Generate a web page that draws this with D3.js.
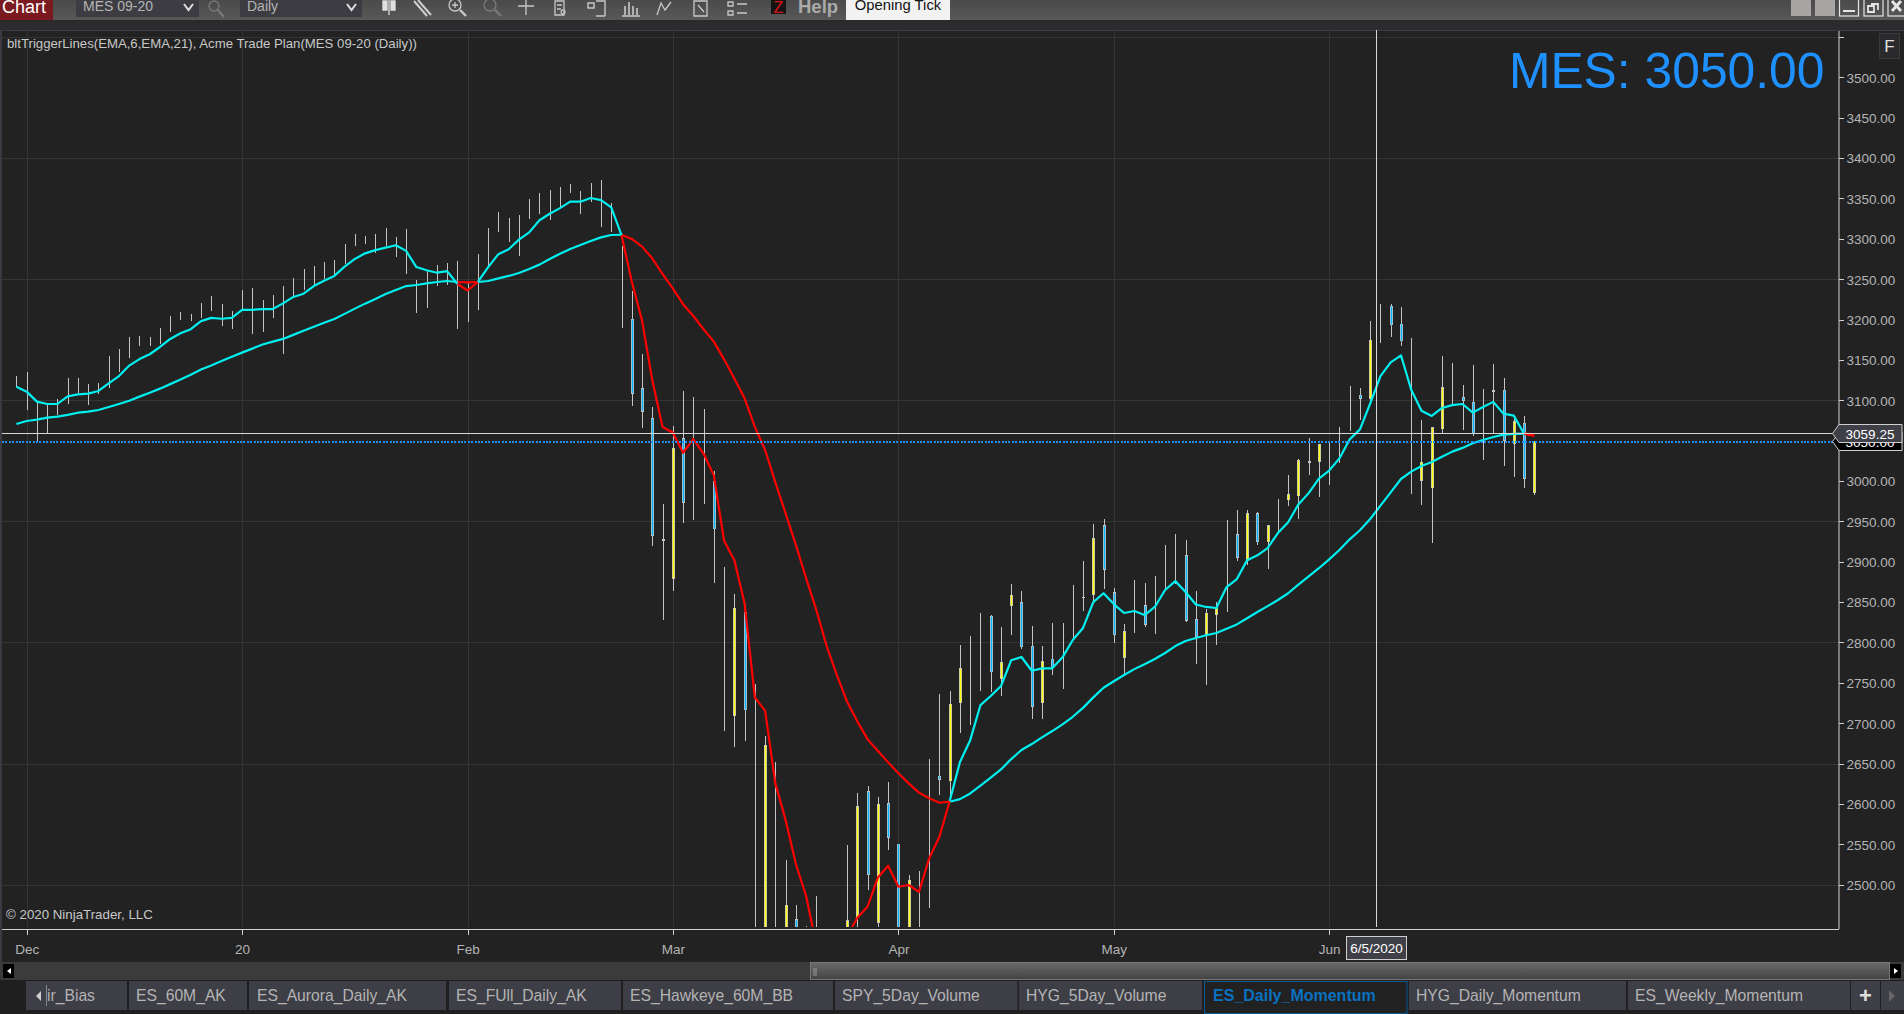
<!DOCTYPE html>
<html><head><meta charset="utf-8">
<script src="https://d3js.org/d3.v7.min.js"></script>
<style>
html,body{margin:0;padding:0;background:#1e1e1e;overflow:hidden}
svg{display:block}
text{font-family:"Liberation Sans",Arial,sans-serif}
</style></head><body>
<svg id="c" width="1904" height="1014"></svg>
<script>
const _ = null;
const highs = [
3130,3135,3098,3097,3102,3128,3127,3120,3122,3155,
3163,3178,3180,3178,3189,3204,3209,3207,3220,3229,
3219,3211,3236,3239,3224,3230,3242,3252,3263,3266,
3271,3274,3294,3306,3303,3306,3313,3302,3312,3249,
3261,3267,3270,3272,3246,3281,3313,3333,3326,3329,
3349,3357,3360,3364,3368,3359,3369,3373,3344,3291,
3235,3157,3092,2972,3068,3112,3104,3089,3012,2894,
2860,2848,2749,2684,2652,2531,2475,2449,2486,2430,
2432,2549,2613,2622,2609,2627,2551,2512,2517,2656,
2736,2740,2797,2808,2836,2834,2819,2872,2864,2820,
2796,2824,2824,2871,2901,2947,2953,2867,2823,2877,
2874,2882,2921,2934,2927,2864,2841,2850,2952,2964,
2964,2962,2945,2978,3008,3027,3053,3046,3047,3067,
3118,3115,3198,3219,3219,3216,3177,3076,3067,3155,
3146,3119,3144,3114,3145,3128,3078,3081,3050];
const lows = [
3117,3088,3047,3059,3082,3095,3109,3094,3108,3115,
3135,3152,3167,3167,3170,3185,3199,3198,3202,3211,
3192,3188,3212,3182,3185,3202,3157,3228,3237,3242,
3250,3255,3269,3291,3294,3283,3291,3277,3256,3208,
3214,3241,3243,3188,3197,3212,3265,3308,3296,3279,
3325,3331,3323,3340,3357,3331,3346,3315,3308,3190,
3093,3066,2920,2828,2864,2948,2952,2972,2874,2690,
2670,2678,2400,2400,2400,2400,2400,2400,2400,2400,
2400,2400,2400,2493,2440,2543,2400,2400,2400,2471,
2611,2605,2688,2698,2740,2739,2734,2809,2792,2705,
2705,2760,2742,2803,2839,2848,2866,2799,2760,2812,
2819,2810,2865,2873,2825,2773,2747,2797,2838,2901,
2896,2921,2891,2937,2969,2953,3008,2980,2995,3022,
3062,3076,3096,3171,3178,3167,2984,2970,2923,3059,
3094,3063,3056,3026,3058,3019,3005,2991,2983];
const opens = [
_,_,_,_,_,_,_,_,_,_, _,_,_,_,_,_,_,_,_,_, _,_,_,_,_,_,_,_,_,_,
_,_,_,_,_,_,_,_,_,_, _,_,_,_,_,_,_,_,_,_, _,_,_,_,_,_,_,_,_,_,
3201,3115,3078,2927,2879,3053,_,_,3000,_,
2709,2838,_,2430,_,2430,2457,_,_,_,
_,2430,2459,2616,2453,2601,2551,2430,_,_,
2635,2628,2725,_,_,2833,2755,2845,2850,2796,
2725,2780,_,_,2856,2859,2945,2862,2781,_,
2846,_,_,_,2908,2829,2809,2834,_,2934,
2901,2960,2924,_,2976,2981,3024,3024,_,_,
_,3107,3102,_,3217,3195,_,3000,2991,3064,
_,3104,3098,_,3111.5,3113,3046,3072,2985];
const closes = [
_,_,_,_,_,_,_,_,_,_, _,_,_,_,_,_,_,_,_,_, _,_,_,_,_,_,_,_,_,_,
_,_,_,_,_,_,_,_,_,_, _,_,_,_,_,_,_,_,_,_, _,_,_,_,_,_,_,_,_,_,
3108,3086,2932,2927,3041,2973,_,_,2940,_,
2843,2716,_,2673,_,2475,2430,_,_,_,
_,2456,2597,2512,2600,2558,2430,2506,_,_,
2630,2724,2768,_,_,2763,2776,2859,2794,2720,
2777,2768,_,_,2856,2929,2890,2809,2814,_,
2822,_,_,_,2827,2807,2837,2844,_,2905,
2960,2924,2945,_,2984,3026,3024,3046,_,_,
_,3102,3175,_,3193,3173,_,3024,3067,3116,
_,3099,3058,_,3111.5,3050,3074,3002.5,3050];
const fastEma = [
3116.8,3110.7,3098.3,3095.4,3095.4,3104.9,3107.4,3108.2,3111.5,3121,
3130,3143,3151,3157,3166,3176,3183,3188,3198,3202,
3201,3202,3212,3212,3213,3213,3220,3228,3232,3241.5,
3248,3254,3265.5,3275,3282,3286,3289,3292,3285,3265,
3261,3258,3260,3244,3236,3246.5,3265,3281,3287,3299,
3308,3323,3331,3338,3346,3346,3350.5,3348,3339,3304.5,
3247,3199,3125,3067,3060,3035,3052,3034,3007,2926,
2902,2848.5,2732,2715.5,2625.5,2580,2525.6,2486,2425,2415,
2420,2437,2459,2473,2509,2523.5,2497.5,2499.6,2491,2532.6,
2559.4,2603.6,2652,2679,2722.5,2733.7,2746,2778,2782,2765,
2768,2768,2781.6,2803,2818,2850,2861,2847.6,2836.5,2839,
2834,2844,2865,2876,2862.5,2847,2844,2842.7,2868.7,2878.6,
2902,2908,2917,2935.6,2949,2971,2985,3003,3013,3028,
3051.6,3064,3096,3130,3147,3155.7,3113,3087,3080.6,3090.5,
3094,3095.4,3084.7,3091.7,3098,3083.4,3081,3058.5,3055.8];
const slowEma = [
3070.6,3074.3,3076,3078.5,3079.7,3082,3084.6,3086,3088,3091.7,
3095.4,3099.5,3104.5,3109.4,3114.4,3120,3125.6,3131.7,3138,3143,
3148.6,3154,3159,3164,3169,3172.6,3176,3181,3186,3191,
3196,3200.7,3207,3213.5,3219.7,3225.4,3231.6,3236.6,3241.5,3242.8,
3244.8,3246.5,3247.7,3246.5,3246,3246.5,3247.7,3251,3254,3257.6,
3262.6,3268,3275,3281.6,3287.4,3292.3,3297.3,3301.8,3304.7,3305,
3299.8,3290.3,3275.8,3256.4,3238.6,3219,3204.4,3188,3172.6,3150.7,
3127,3102.4,3067,3038.4,2998.4,2960,2921,2879.5,2840,2795.6,
2759.7,2726.6,2702,2680,2665.5,2651.5,2638,2625.5,2614,2607,
2601.5,2602.8,2606,2613,2622.6,2632.5,2642.8,2655.6,2666.8,2674.2,
2682.5,2690.3,2698.6,2708,2719,2732,2744,2752,2759.7,2767,
2773,2779.5,2787,2795.6,2801.8,2805.5,2809,2811.7,2817,2822.4,
2830,2837.7,2845,2852.6,2861,2871.6,2882,2892,2903,2914.6,
2927.8,2939,2953,2969.5,2986,3002.5,3011.6,3018.6,3023.6,3030,
3036.4,3041,3046.7,3050.8,3054.5,3057.4,3058.3,3058.7,3057.8];
const priceTicks = [3550,3500,3450,3400,3350,3300,3250,3200,3150,3100,3050,3000,2950,2900,2850,2800,2750,2700,2650,2600,2550,2500];
const gridPrices = [3550,3400,3250,3100,2950,2800,2650,2500];
const dateTickIdx = [1,22,44,64,86,107,128];
const dateTickLabels = ["Dec","20","Feb","Mar","Apr","May","Jun"];
const lastPrice = 3059.25, markerPrice = 3050.00;
const cursorIdx = 132.55, cursorDate = "6/5/2020";
const tabNames = ["ir_Bias","ES_60M_AK","ES_Aurora_Daily_AK","ES_FUll_Daily_AK","ES_Hawkeye_60M_BB","SPY_5Day_Volume","HYG_5Day_Volume","ES_Daily_Momentum","HYG_Daily_Momentum","ES_Weekly_Momentum"];
const tabEdges = [[26,127,47],[129,247,136],[249,446,257],[449,621,456],[623,833,630],[835,1017.5,842],[1019,1202,1026],[1204,1407.5,1213],[1409,1626,1416],[1628,1850,1635]];

const svg = d3.select("#c");
const plotL=2, plotR=1839, plotT=30, plotB=929;
const x = d3.scaleLinear().domain([0,148]).range([16.4,1534.3]);
const y = d3.scaleLinear().domain([2445,3558]).range([929.1,30.5]);

const defs = svg.append("defs");
const tg = defs.append("linearGradient").attr("id","tb").attr("x1",0).attr("y1",0).attr("x2",0).attr("y2",1);
tg.append("stop").attr("offset",0).attr("stop-color","#4a4a4a");
tg.append("stop").attr("offset",1).attr("stop-color","#585858");
const sg = defs.append("linearGradient").attr("id","sb").attr("x1",0).attr("y1",0).attr("x2",0).attr("y2",1);
sg.append("stop").attr("offset",0).attr("stop-color","#6a6a6a");
sg.append("stop").attr("offset",1).attr("stop-color","#434343");
defs.append("clipPath").attr("id","plot").append("rect").attr("x",plotL).attr("y",plotT).attr("width",plotR-plotL).attr("height",927-plotT);

// backgrounds
svg.append("rect").attr("width",1904).attr("height",1014).attr("fill","#222222");
svg.append("rect").attr("width",1904).attr("height",20).attr("fill","url(#tb)");
svg.append("rect").attr("y",20).attr("width",1904).attr("height",2).attr("fill","#2a2a2a");
svg.append("rect").attr("y",22).attr("width",1904).attr("height",8).attr("fill","#2c2c2e");
svg.append("rect").attr("y",30).attr("width",1904).attr("height",1).attr("fill","#3c3c40");
svg.append("rect").attr("x",0).attr("y",30).attr("width",2).attr("height",932).attr("fill","#3a3a40");

// grid
const g = svg.append("g").attr("shape-rendering","crispEdges");
g.selectAll(".h").data(gridPrices).join("line").attr("x1",plotL).attr("x2",plotR).attr("y1",d=>Math.round(y(d))+.5).attr("y2",d=>Math.round(y(d))+.5).attr("stroke","#343434");
g.selectAll(".v").data(dateTickIdx).join("line").attr("y1",plotT).attr("y2",927).attr("x1",d=>Math.round(x(d))+.5).attr("x2",d=>Math.round(x(d))+.5).attr("stroke","#343434");

// bars
const idx = d3.range(highs.length);
const bars = svg.append("g").attr("clip-path","url(#plot)");
const px = i=>Math.round(x(i));
bars.append("g").attr("shape-rendering","crispEdges").selectAll("line").data(idx).join("line")
  .attr("x1",i=>px(i)+.5).attr("x2",i=>px(i)+.5).attr("y1",i=>y(highs[i])).attr("y2",i=>y(lows[i]))
  .attr("stroke","#c4c4c4").attr("stroke-width",1);
const withBody = idx.filter(i=>opens[i]!==null);
const dojis = withBody.filter(i=>opens[i]===closes[i]);
const bodies = withBody.filter(i=>opens[i]!==closes[i]);
bars.append("g").attr("shape-rendering","crispEdges").selectAll("rect").data(bodies).join("rect")
  .attr("x",i=>px(i)-1).attr("width",3)
  .attr("y",i=>y(Math.max(opens[i],closes[i]))).attr("height",i=>Math.abs(y(opens[i])-y(closes[i])))
  .attr("fill","#c4c4c4");
bars.append("g").selectAll("rect").data(bodies).join("rect")
  .attr("x",i=>px(i)-.2).attr("width",1.4)
  .attr("y",i=>y(Math.max(opens[i],closes[i]))+.8).attr("height",i=>Math.max(0,Math.abs(y(opens[i])-y(closes[i]))-1.6))
  .attr("fill",i=>closes[i]>opens[i]?"#ffff00":"#00b4ff");
bars.append("g").attr("shape-rendering","crispEdges").selectAll("rect").data(dojis).join("rect")
  .attr("x",i=>px(i)-1).attr("width",3).attr("y",i=>y(opens[i])-.5).attr("height",1.5).attr("fill","#c4c4c4");

// EMA lines, coloured by which is above
function runs(){const out=[];let cur=null;
  for(let i=0;i<fastEma.length-1;i++){const red=fastEma[i]<slowEma[i];
    if(!cur||cur.red!==red){cur={red,ids:[i]};out.push(cur);} cur.ids.push(i+1);} return out;}
const lg = svg.append("g").attr("clip-path","url(#plot)").attr("fill","none").attr("stroke-width",2.2).attr("stroke-linejoin","round");
[slowEma,fastEma].forEach(s=>{
  const ln = d3.line().x(i=>x(i)).y(i=>y(s[i]));
  lg.append("g").selectAll("path").data(runs()).join("path").attr("d",r=>ln(r.ids)).attr("stroke",r=>r.red?"#ff0000":"#00f0f0");
});

// price lines and cursor
const over = svg.append("g").attr("shape-rendering","crispEdges");
over.append("line").attr("x1",plotL).attr("x2",1833).attr("y1",Math.round(y(markerPrice))+.5).attr("y2",Math.round(y(markerPrice))+.5)
  .attr("stroke","#1e90ff").attr("stroke-width",2).attr("stroke-dasharray","2 1.4");
over.append("line").attr("x1",plotL).attr("x2",1833).attr("y1",Math.round(y(lastPrice))+.5).attr("y2",Math.round(y(lastPrice))+.5).attr("stroke","#d8d8d8");
over.append("line").attr("x1",Math.round(x(cursorIdx))+.5).attr("x2",Math.round(x(cursorIdx))+.5).attr("y1",plotT).attr("y2",927).attr("stroke","#d8d8d8");

// axes
const ya = d3.axisRight(y).tickValues(priceTicks).tickSize(5).tickPadding(3).tickFormat(d=>d===3550?"":d3.format(".2f")(d));
const yg = svg.append("g").attr("transform",`translate(${plotR-.5},0)`).call(ya);
yg.select(".domain").attr("d",`M0.5,31V${plotB}`).attr("stroke","#d0d0d0").attr("fill","none");
yg.selectAll("line").attr("stroke","#d0d0d0").attr("shape-rendering","crispEdges");
yg.selectAll("text").attr("fill","#b4b4b4").attr("dy","0.36em").style("font-size","13.5px").style("font-family",'"Liberation Sans"');
const xa = d3.axisBottom(x).tickValues(dateTickIdx).tickSize(6).tickPadding(9).tickFormat((d,i)=>dateTickLabels[i]);
const xg = svg.append("g").attr("transform",`translate(0,${plotB})`).call(xa);
xg.select(".domain").attr("d",`M${plotL},0.5H${plotR}`).attr("stroke","#d0d0d0").attr("fill","none");
xg.selectAll("line").attr("stroke","#d0d0d0").attr("shape-rendering","crispEdges");
xg.selectAll("text").attr("fill","#b4b4b4").style("font-size","13.5px").style("font-family",'"Liberation Sans"');

// price flags
function flag(yc,fill,txt,col){
  const yy=Math.round(y(yc))+.5, t=yy-9, b=yy+9;
  svg.append("path").attr("d",`M1832.5,${yy}L1839,${t}H1902V${b}H1839Z`).attr("fill",fill).attr("stroke","#cfcfcf");
  svg.append("text").attr("x",1870).attr("y",yy+5).attr("text-anchor","middle").attr("fill",col).style("font-size","13.5px").text(txt);
}
flag(markerPrice,"#000000",d3.format(".2f")(markerPrice),"#ffffff");
flag(lastPrice,"#3f3f47",d3.format(".2f")(lastPrice),"#ffffff");

// cursor date box
svg.append("rect").attr("x",1346.5).attr("y",936.5).attr("width",60).attr("height",23).attr("fill","#3f3f47").attr("stroke","#cfcfcf");
svg.append("text").attr("x",1376.5).attr("y",953).attr("text-anchor","middle").attr("fill","#fff").style("font-size","13.5px").text(cursorDate);

// labels
svg.append("text").attr("x",7).attr("y",48).attr("fill","#c8c8c8").style("font-size","13.2px").text("bltTriggerLines(EMA,6,EMA,21), Acme Trade Plan(MES 09-20 (Daily))");
svg.append("text").attr("x",6).attr("y",919).attr("fill","#c8c8c8").style("font-size","13.3px").text("© 2020 NinjaTrader, LLC");
svg.append("text").attr("x",1824.5).attr("y",88).attr("text-anchor","end").attr("fill","#1e90ff").style("font-size","49.8px").text("MES: "+d3.format(".2f")(markerPrice));
// F button
svg.append("rect").attr("x",1879.5).attr("y",33.5).attr("width",20).attr("height",25).attr("fill","#2a2a2c").attr("stroke","#3a3a3e");
svg.append("text").attr("x",1889.5).attr("y",52).attr("text-anchor","middle").attr("fill","#e0e0e0").style("font-size","17px").text("F");

// toolbar
svg.append("rect").attr("width",53).attr("height",20).attr("fill","#7a1a20");
svg.append("text").attr("x",2).attr("y",13).attr("fill","#fff").style("font-size","18px").text("Chart");
[[76,199,"MES 09-20"],[240,362,"Daily"]].forEach(d=>{
  svg.append("rect").attr("x",d[0]).attr("width",d[1]-d[0]).attr("height",17).attr("fill","#3c3c42");
  svg.append("text").attr("x",d[0]+7).attr("y",11).attr("fill","#b4b4b4").style("font-size","14px").text(d[2]);
  svg.append("path").attr("d",`M${d[1]-15},4l4.5,6l4.5,-6`).attr("fill","none").attr("stroke","#e0e0e0").attr("stroke-width",2);
});
const ic = svg.append("g").attr("fill","none").attr("stroke","#c8c8c8").attr("stroke-width",1.3);
ic.append("circle").attr("cx",214).attr("cy",6).attr("r",5).attr("stroke","#7a7a7a");
ic.append("path").attr("d","M218,10l6,7").attr("stroke","#7a7a7a").attr("stroke-width",2);
ic.append("path").attr("d","M389,0V15M383,1h4v9h-4zM391,1h4v9h-4z").attr("stroke","#e0e0e0").attr("fill","#e0e0e0");
ic.append("path").attr("d","M414,1l13,15M418,0l13,15").attr("stroke","#cfcfcf").attr("stroke-width",2);
ic.append("circle").attr("cx",455).attr("cy",5).attr("r",6);
ic.append("path").attr("d","M452,5h6M455,2v6");
ic.append("path").attr("d","M460,10l6,6").attr("stroke-width",2.4);
ic.append("circle").attr("cx",490).attr("cy",5).attr("r",6).attr("stroke","#7a7a7a");
ic.append("path").attr("d","M495,10l6,6").attr("stroke-width",2.4).attr("stroke","#7a7a7a");
ic.append("path").attr("d","M526,0V15M518,6h16");
ic.append("path").attr("d","M555,1h9v14h-9zM557,5h5M557,9h4M563,10a2,2 0 1 0 .1,0");
ic.append("path").attr("d","M588,3h6v5h-6zM596,1h9v15M596,16h9").attr("stroke-width",1.4);
ic.append("path").attr("d","M625,15V6M629,15V2M633,15V6M637,15V8M622,16h18").attr("stroke-width",1.6);
ic.append("path").attr("d","M657,15l4,-12l4,7l6,-8").attr("stroke-width",1.3);
ic.append("path").attr("d","M694,1h13v15h-13zM698,5l6,7").attr("stroke-width",1.3);
ic.append("path").attr("d","M728,2h5v4h-5zM728,11h5v4h-5zM737,4h10M737,13h10");
svg.append("rect").attr("x",771).attr("y",0).attr("width",15).attr("height",14).attr("fill","#141414");
svg.append("text").attr("x",778.5).attr("y",13).attr("text-anchor","middle").attr("fill","#e01010").style("font-size","16px").text("Z");
svg.append("text").attr("x",798).attr("y",13).attr("fill","#aaaaaa").style("font-size","18.5px").style("font-weight","bold").text("Help");
svg.append("rect").attr("x",846).attr("width",104).attr("height",20).attr("fill","#f2f2f2");
svg.append("text").attr("x",898).attr("y",10).attr("text-anchor","middle").attr("fill","#111").style("font-size","14.8px").text("Opening Tick");
// window controls
[[1791,1811],[1815,1835]].forEach(d=>svg.append("rect").attr("x",d[0]).attr("width",d[1]-d[0]).attr("height",16).attr("fill","#aaa5a5"));
const wc = svg.append("g").attr("fill","none").attr("stroke","#e4e4e4").attr("stroke-width",1.2);
wc.append("rect").attr("x",1839.5).attr("y",-1).attr("width",19).attr("height",17);
wc.append("path").attr("d","M1843,11h12").attr("stroke-width",2);
wc.append("rect").attr("x",1864).attr("y",-1).attr("width",19).attr("height",17);
wc.append("path").attr("d","M1871,4h7v6M1868,6h6v6h-6z").attr("stroke-width",1.8);
wc.append("rect").attr("x",1888).attr("y",-1).attr("width",18).attr("height",17);
wc.append("path").attr("d","M1892,1l9,10M1901,1l-9,10").attr("stroke-width",3);

// scrollbar
svg.append("rect").attr("y",962).attr("width",1904).attr("height",18).attr("fill","#3b3b3b");
svg.append("rect").attr("x",810.5).attr("y",962.5).attr("width",1079).attr("height",17).attr("fill","url(#sb)").attr("stroke","#777");
svg.append("path").attr("d","M814,968v8M816,968v8").attr("stroke","#999");
[[3,14,"M11,968l-4,3l4,3z"],[1890,1901,"M1894,968l4,3l-4,3z"]].forEach(d=>{
  svg.append("rect").attr("x",d[0]).attr("y",964).attr("width",d[1]-d[0]).attr("height",14).attr("fill","#000");
  svg.append("path").attr("d",d[2]).attr("fill","#fff");
});

// tabs
svg.append("rect").attr("y",980).attr("width",1904).attr("height",34).attr("fill","#1f1f1f");
const selected = "ES_Daily_Momentum";
tabNames.forEach((t,i)=>{
  const e=tabEdges[i], sel=t===selected;
  svg.append("rect").attr("x",e[0]).attr("y",981).attr("width",e[1]-e[0]).attr("height",sel?33:29).attr("fill",sel?"#212121":"#3e3e46");
  if(sel){svg.append("rect").attr("x",e[0]+.5).attr("y",981.5).attr("width",e[1]-e[0]-1).attr("height",32).attr("fill","none").attr("stroke","#0a5a94");}
  svg.append("text").attr("x",e[2]).attr("y",1000.5).attr("fill",sel?"#0a72c0":"#b4b4b4").style("font-size",sel?"16px":"15.7px").style("font-weight",sel?"bold":"normal").text(t);
});
svg.append("path").attr("d","M41,991l-5,5l5,5z").attr("fill","#cfcfcf");
svg.append("line").attr("x1",46.5).attr("x2",46.5).attr("y1",985).attr("y2",1006).attr("stroke","#888");
svg.append("rect").attr("x",1851).attr("y",981).attr("width",29).attr("height",29).attr("fill","#3e3e46");
svg.append("text").attr("x",1865.5).attr("y",1003).attr("text-anchor","middle").attr("fill","#dedede").style("font-size","22px").style("font-weight","bold").text("+");
svg.append("rect").attr("x",1881).attr("y",981).attr("width",23).attr("height",29).attr("fill","#3e3e46");
svg.append("path").attr("d","M1889,990l6,6l-6,6z").attr("fill","#666");
</script>
</body></html>
